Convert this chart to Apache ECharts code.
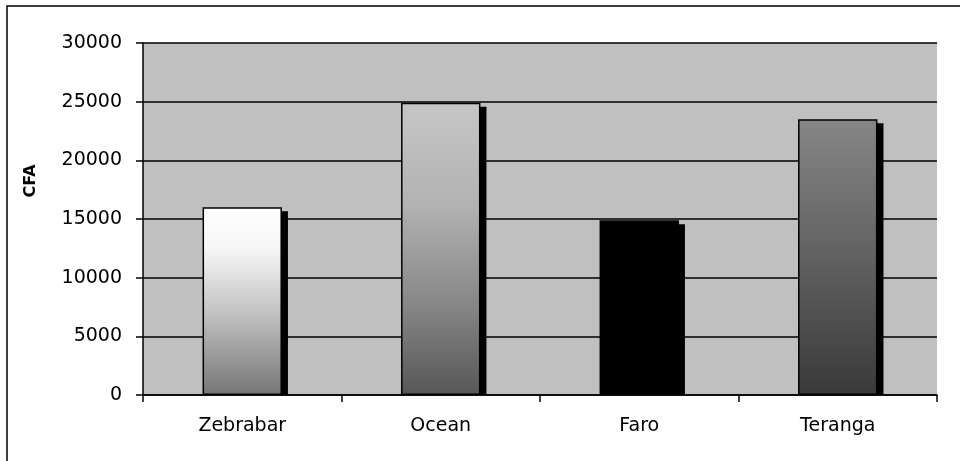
<!DOCTYPE html>
<html>
<head>
<meta charset="utf-8">
<script src="https://cdn.jsdelivr.net/npm/echarts@6/dist/echarts.min.js"></script>
<style>
html,body{margin:0;padding:0;background:#fff;}
#chart{width:960px;height:461px;}
</style>
</head>
<body>
<div id="chart"></div>
<script>
// Data
const categories = ['Zebrabar', 'Ocean', 'Faro', 'Teranga'];
const values = [16000, 24900, 14900, 23500];
const yTicks = [0, 5000, 10000, 15000, 20000, 25000, 30000];
const yAxisTitle = 'CFA';

// Styles (per bar gradients)
const barFills = [
  [['0', '#ffffff'], ['0.22', '#f6f6f6'], ['0.55', '#c4c4c4'], ['1', '#767676']],
  [['0', '#c6c6c6'], ['0.35', '#b2b2b2'], ['0.7', '#858585'], ['1', '#575757']],
  [['0', '#000000'], ['1', '#000000']],
  [['0', '#868686'], ['0.5', '#616161'], ['1', '#393939']]
];
function grad(stops) {
  return new echarts.graphic.LinearGradient(0, 0, 0, 1,
    stops.map(s => ({ offset: parseFloat(s[0]), color: s[1] })));
}

const chart = echarts.init(document.getElementById('chart'), null, { renderer: 'canvas' });
const FONT = 'DejaVu Sans';
const BAR_RATIO = 0.4;

chart.setOption({
  backgroundColor: '#ffffff',
  animation: false,
  graphic: [{
    type: 'rect', z: 100, silent: true,
    shape: { x: 7, y: 6, width: 1200, height: 1200 },
    style: { fill: 'none', stroke: '#000', lineWidth: 1.5 }
  }],
  grid: {
    left: 143, right: 23, top: 43, bottom: 66,
    show: true, backgroundColor: '#c0c0c0', borderWidth: 0
  },
  xAxis: {
    type: 'category',
    data: categories,
    boundaryGap: true,
    axisLine: { show: true, lineStyle: { color: '#000', width: 1.5 } },
    axisTick: { show: true, length: 7, inside: false, alignWithLabel: false, lineStyle: { color: '#000', width: 1.5 } },
    axisLabel: { color: '#000', fontFamily: FONT, fontSize: 19, margin: 22 },
    splitLine: { show: false }
  },
  yAxis: {
    type: 'value',
    min: yTicks[0], max: yTicks[yTicks.length - 1], interval: yTicks[1] - yTicks[0],
    name: yAxisTitle,
    nameLocation: 'middle',
    nameGap: 104,
    nameRotate: 90,
    nameTextStyle: { color: '#000', fontFamily: FONT, fontSize: 16, fontWeight: 'bold', padding: [0, 0, 0, 76] },
    axisLine: { show: true, lineStyle: { color: '#000', width: 1.5 } },
    axisTick: { show: true, length: 7, lineStyle: { color: '#000', width: 1.5 } },
    axisLabel: { color: '#000', fontFamily: FONT, fontSize: 19, margin: 21, formatter: v => String(v) },
    splitLine: { show: true, lineStyle: { color: '#000', width: 1.5 } }
  },
  series: [
    {
      type: 'custom',
      name: 'shadow',
      silent: true,
      data: values.map((v, i) => [i, v]),
      encode: { x: 0, y: 1 },
      renderItem: function (params, api) {
        const idx = api.value(0);
        const v = api.value(1);
        const top = api.coord([idx, v]);
        const base = api.coord([idx, 0]);
        const bw = api.size([1, 0])[0] * BAR_RATIO;
        return {
          type: 'rect',
          shape: { x: top[0] - bw / 2 + 6, y: top[1] + 4, width: bw, height: base[1] - top[1] - 4 },
          style: { fill: '#000' }
        };
      }
    },
    {
      type: 'bar',
      name: 'CFA',
      barWidth: (BAR_RATIO * 100) + '%',
      data: values.map((v, i) => ({
        value: v,
        itemStyle: { color: grad(barFills[i]), borderColor: '#000', borderWidth: 1.5 }
      }))
    }
  ]
});
</script>
</body>
</html>
